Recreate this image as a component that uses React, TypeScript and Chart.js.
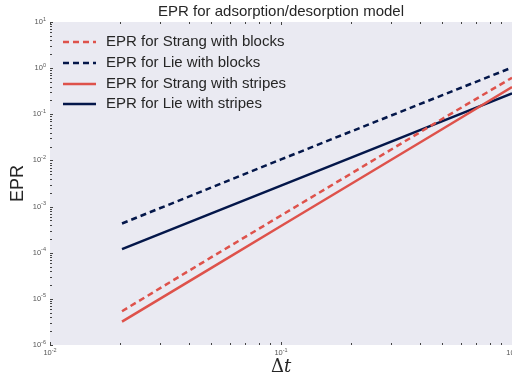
import React, { useEffect, useRef } from "react";
import { Chart, registerables } from "chart.js";

Chart.register(...registerables);

const dtValues = [0.0205, 0.05, 0.1, 0.2, 0.5, 1.0];
const strangBlocks = [5.4e-6, 8.0e-5, 6.4e-4, 5.1e-3, 8.0e-2, 0.62];
const lieBlocks = [4.3e-4, 2.6e-3, 1.05e-2, 4.2e-2, 0.26, 1.03];
const strangStripes = [3.2e-6, 4.7e-5, 3.8e-4, 3.05e-3, 4.8e-2, 0.39];
const lieStripes = [1.2e-4, 7.1e-4, 2.85e-3, 1.14e-2, 7.1e-2, 0.285];

const seriesLabels = [
  "EPR for Strang with blocks",
  "EPR for Lie with blocks",
  "EPR for Strang with stripes",
  "EPR for Lie with stripes",
];
const titleText = "EPR for adsorption/desorption model";
const yAxisLabel = "EPR";
const xTickExps = [-2, -1, 0];
const yTickExps = [1, 0, -1, -2, -3, -4, -5, -6];

const RED = "#DE524B";
const NAVY = "#04174A";
const BG = "#EAEAF2";
const SANS = "'Liberation Sans', Arial, sans-serif";

function drawPow(ctx: CanvasRenderingContext2D, exp: number, x: number, y: number, align: "right" | "center") {
  const base = "10";
  const sup = exp < 0 ? "-" + Math.abs(exp) : String(exp);
  ctx.font = `7.5px ${SANS}`;
  const wb = ctx.measureText(base).width;
  ctx.font = `5.5px ${SANS}`;
  const ws = ctx.measureText(sup).width;
  const total = wb + ws;
  let x0 = align === "right" ? x - total : x - total / 2;
  ctx.fillStyle = "#555555";
  ctx.textAlign = "left";
  ctx.textBaseline = "middle";
  ctx.font = `7.5px ${SANS}`;
  ctx.fillText(base, x0, y);
  ctx.font = `5.5px ${SANS}`;
  ctx.fillText(sup, x0 + wb, y - 3);
}

const decorPlugin = {
  id: "decor",
  beforeDraw(chart: any) {
    const { ctx, chartArea } = chart;
    ctx.save();
    ctx.fillStyle = BG;
    ctx.fillRect(chartArea.left, chartArea.top, chartArea.right - chartArea.left, chartArea.bottom - chartArea.top);
    ctx.restore();
  },
  afterDraw(chart: any) {
    const { ctx, chartArea } = chart;
    const xs = chart.scales.x;
    const ys = chart.scales.y;
    ctx.save();
    ctx.strokeStyle = "#444444";
    ctx.lineWidth = 1;
    for (let e = -2; e <= 0; e++) {
      for (let m = 1; m <= 9; m++) {
        const v = m * Math.pow(10, e);
        if (v > 1.0001) break;
        const px = Math.round(xs.getPixelForValue(v)) + 0.5;
        const len = m === 1 ? 3 : 2;
        ctx.beginPath();
        ctx.moveTo(px, chartArea.bottom);
        ctx.lineTo(px, chartArea.bottom - len);
        ctx.moveTo(px, chartArea.top);
        ctx.lineTo(px, chartArea.top + len);
        ctx.stroke();
      }
    }
    for (let e = -6; e <= 1; e++) {
      for (let m = 1; m <= 9; m++) {
        const v = m * Math.pow(10, e);
        if (v > 10.0001) break;
        const py = Math.round(ys.getPixelForValue(v)) + 0.5;
        const len = m === 1 ? 3 : 2;
        ctx.beginPath();
        ctx.moveTo(chartArea.left, py);
        ctx.lineTo(chartArea.left + len, py);
        ctx.stroke();
      }
    }
    for (const e of yTickExps) {
      drawPow(ctx, e, chartArea.left - 4, ys.getPixelForValue(Math.pow(10, e)), "right");
    }
    for (const e of xTickExps) {
      drawPow(ctx, e, xs.getPixelForValue(Math.pow(10, e)), chartArea.bottom + 8, "center");
    }
    ctx.fillStyle = "#262626";
    ctx.textAlign = "center";
    ctx.textBaseline = "middle";
    ctx.font = `15px ${SANS}`;
    ctx.fillText(titleText, (chartArea.left + chartArea.right) / 2, 12);
    ctx.save();
    ctx.translate(18, (chartArea.top + chartArea.bottom) / 2);
    ctx.rotate(-Math.PI / 2);
    ctx.font = `18px ${SANS}`;
    ctx.fillText(yAxisLabel, 0, 0);
    ctx.restore();
    const cx = xs.getPixelForValue(0.1);
    ctx.textAlign = "left";
    ctx.font = `18px 'DejaVu Serif', serif`;
    const wd = ctx.measureText("Δ").width;
    ctx.font = `italic 18px 'DejaVu Serif', serif`;
    const wt = ctx.measureText("t").width;
    const x0 = cx - (wd + wt) / 2;
    ctx.font = `18px 'DejaVu Serif', serif`;
    ctx.fillText("Δ", x0, 367);
    ctx.font = `italic 18px 'DejaVu Serif', serif`;
    ctx.fillText("t", x0 + wd, 367);
    const rows = [42, 63, 84, 104];
    chart.data.datasets.forEach((ds: any, i: number) => {
      const y = rows[i];
      ctx.strokeStyle = ds.borderColor;
      ctx.lineWidth = 2.5;
      ctx.setLineDash(ds.borderDash || []);
      ctx.beginPath();
      ctx.moveTo(63, y);
      ctx.lineTo(96, y);
      ctx.stroke();
      ctx.setLineDash([]);
      ctx.fillStyle = "#262626";
      ctx.font = `15px ${SANS}`;
      ctx.textAlign = "left";
      ctx.textBaseline = "middle";
      ctx.fillText(ds.label, 106, y);
    });
    ctx.restore();
  },
};

export default function App() {
  const ref = useRef<HTMLCanvasElement>(null);
  useEffect(() => {
    document.body.style.margin = "0";
    const mk = (vals: number[]) => dtValues.map((x, i) => ({ x, y: vals[i] }));
    const chart = new Chart(ref.current as HTMLCanvasElement, {
      type: "line",
      data: {
        datasets: [
          { label: seriesLabels[0], data: mk(strangBlocks), borderColor: RED, borderDash: [6, 4], borderWidth: 2.5, pointRadius: 0, fill: false },
          { label: seriesLabels[1], data: mk(lieBlocks), borderColor: NAVY, borderDash: [6, 4], borderWidth: 2.5, pointRadius: 0, fill: false },
          { label: seriesLabels[2], data: mk(strangStripes), borderColor: RED, borderWidth: 2.5, pointRadius: 0, fill: false },
          { label: seriesLabels[3], data: mk(lieStripes), borderColor: NAVY, borderWidth: 2.5, pointRadius: 0, fill: false },
        ],
      },
      options: {
        animation: false,
        responsive: false,
        devicePixelRatio: 1,
        layout: { padding: { top: 22, right: 0, left: 0, bottom: 0 } },
        plugins: { legend: { display: false }, tooltip: { enabled: false }, title: { display: false } },
        scales: {
          x: {
            type: "logarithmic",
            min: 0.01,
            max: 1,
            grid: { display: false },
            border: { display: false },
            ticks: { display: false },
            afterFit: (s: any) => { s.height = 30; },
          },
          y: {
            type: "logarithmic",
            min: 1e-6,
            max: 10,
            grid: { display: false },
            border: { display: false },
            ticks: { display: false },
            afterFit: (s: any) => { s.width = 50; },
          },
        },
      } as any,
      plugins: [decorPlugin],
    });
    return () => chart.destroy();
  }, []);
  return (
    <div style={{ position: "absolute", left: 0, top: 0, width: 512, height: 375 }}>
      <canvas ref={ref} width={512} height={375} />
    </div>
  );
}
